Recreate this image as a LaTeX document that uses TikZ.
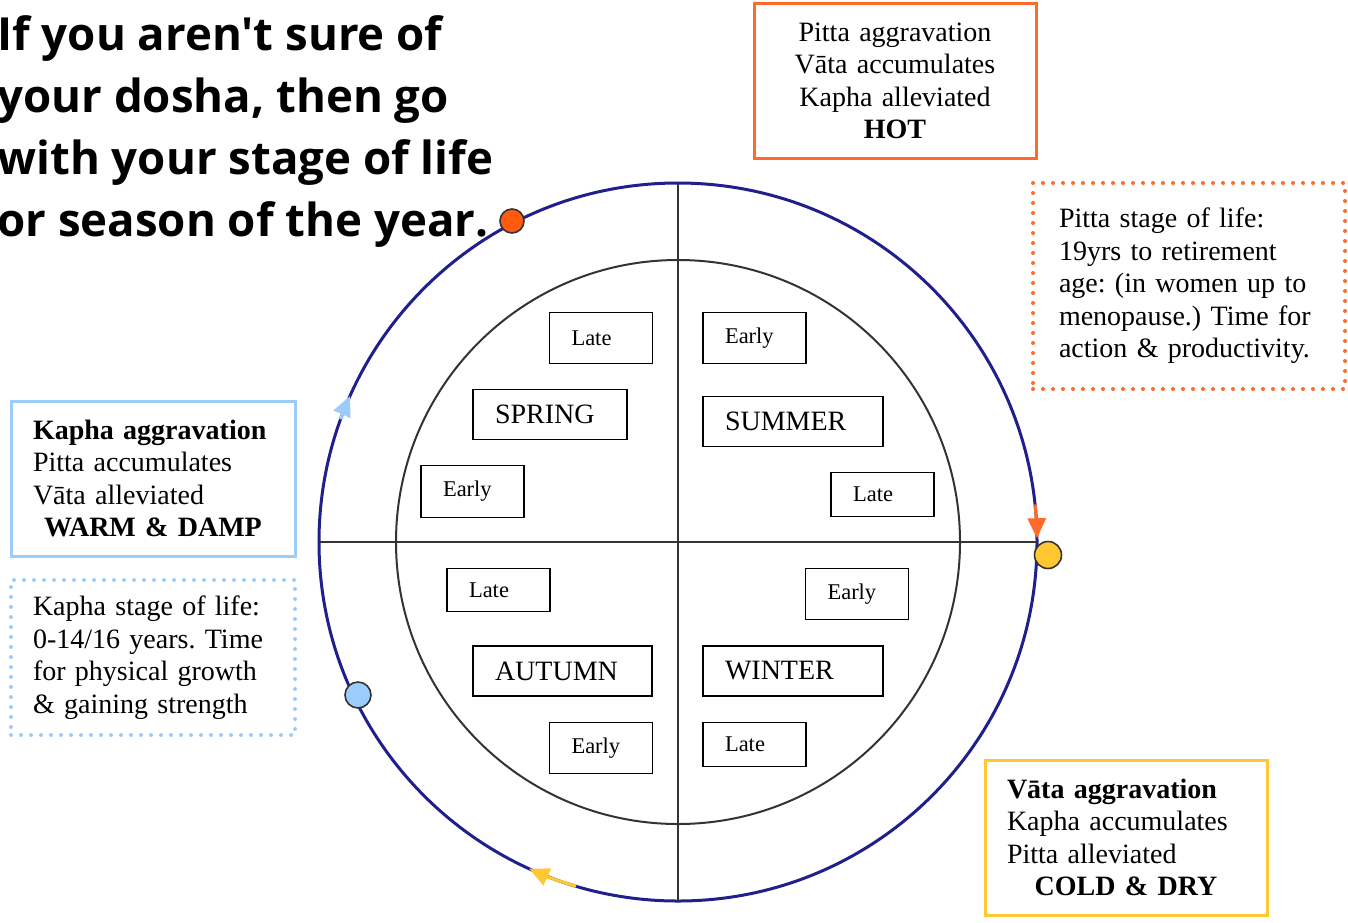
\documentclass[tikz,border=0pt]{standalone}
\usepackage{fontspec}
\setmainfont{Liberation Serif}
\newfontfamily\headfont{Open Sans}[Ligatures=TeXOff]
\usetikzlibrary{arrows.meta}
\frenchspacing
\definecolor{pittaorange}{HTML}{FF6A28}
\definecolor{pittadotfill}{HTML}{FF5A10}
\definecolor{kaphablue}{HTML}{9CCCFA}
\definecolor{vatayellow}{HTML}{FFC832}
\definecolor{rimblue}{HTML}{20208C}
\newcommand\boxfont{\fontsize{14}{16.25}\selectfont}
\newcommand\phasefont{\fontsize{11.25}{13}\selectfont}
\newcommand\seasonfont{\fontsize{14}{16}\selectfont}
\newcommand\centredline[1]{\makebox[\hsize]{#1}}

\begin{document}
\begin{tikzpicture}[x=0.5pt, y=-0.5pt, >={Triangle[length=10pt,width=9pt]},
  rim/.style={draw=rimblue, line width=1.5pt},
  ring/.style={draw=black!80, line width=1pt},
  infobox/.style={draw, line width=1.5pt, minimum height=77.5pt, inner xsep=11pt, align=left, font=\boxfont},
  lifebox/.style={infobox, line width=2pt, dash pattern=on 0pt off 5pt, line cap=round},
  phasebox/.style={draw, line width=0.75pt, minimum height=25.5pt, inner xsep=11pt, text width=29.5pt, align=left, font=\phasefont},
  seasonbox/.style={draw, line width=0.75pt, minimum height=25pt, inner xsep=11pt, align=left, font=\seasonfont},
  seasondot/.style={circle, draw=black!80, line width=0.8pt, inner sep=0pt, minimum size=#1}]
\useasboundingbox (0,0) rectangle (1348,922);

\coordinate (ctr) at (678, 542);
\coordinate (north) at (678, 183);
\coordinate (south) at (678, 901);
\coordinate (west) at (319, 542);
\coordinate (east) at (1037, 542);
\draw [rim] (ctr) circle [radius=359];
\draw [ring] (ctr) circle [radius=282];
\draw [ring] (north) -- (south);
\draw [ring] (west) -- (east);

\draw [->, pittaorange, line width=1.5pt] ([shift={(-6:359)}]ctr) arc [start angle=-6, end angle=-0.6, radius=359];
\draw [->, vatayellow, line width=1.5pt] ([shift={(106.5:359)}]ctr) arc [start angle=106.5, end angle=114.5, radius=359];
\draw [->, kaphablue, line width=1.5pt] ([shift={(200:359)}]ctr) arc [start angle=200, end angle=204, radius=359];

\node (pittadot) at (512, 221) [seasondot=12pt, fill=pittadotfill] {};
\node (vatadot) at (1048, 555) [seasondot=13.5pt, fill=vatayellow] {};
\node (kaphadot) at (358, 695) [seasondot=13pt, fill=kaphablue] {};

\node (springlate) at (601, 338) [phasebox] {Late};
\node (spring) at (550, 414.5) [seasonbox, text width=55pt] {SPRING};
\node (springearly) at (472.5, 491.5) [phasebox, minimum height=26pt] {Early};
\node (summerearly) at (754.5, 338) [phasebox] {Early};
\node (summer) at (793, 421.5) [seasonbox, text width=68pt] {SUMMER};
\node (summerlate) at (882.5, 494.5) [phasebox, minimum height=22pt] {Late};
\node (autumnlate) at (498.5, 590) [phasebox, minimum height=21.5pt] {Late};
\node (autumn) at (562.5, 671) [seasonbox, text width=67.5pt] {AUTUMN};
\node (autumnearly) at (601, 748) [phasebox] {Early};
\node (winterearly) at (857, 594) [phasebox] {Early};
\node (winter) at (793, 671) [seasonbox, text width=68pt] {WINTER};
\node (winterlate) at (754.5, 744.5) [phasebox, minimum height=22pt] {Late};

\node (hot) at (895, 81) [infobox, draw=pittaorange, text width=119pt, align=center] {Pitta aggravation\\Vāta accumulates\\Kapha alleviated\\\textbf{HOT}};
\node (pittalife) at (1189, 286) [lifebox, draw=pittaorange, minimum height=103pt, inner xsep=13pt, text width=130pt] {Pitta stage of life:\\19yrs to retirement\\age: (in women up to\\menopause.) Time for\\action \& productivity.};
\node (warmdamp) at (153, 478.5) [infobox, draw=kaphablue, text width=120pt] {\textbf{Kapha aggravation}\\Pitta accumulates\\Vāta alleviated\\\centredline{\textbf{WARM \& DAMP}}};
\node (kaphalife) at (153, 657.5) [lifebox, draw=kaphablue, text width=120pt] {Kapha stage of life:\\0-14/16 years. Time\\for physical growth\\\& gaining strength};
\node (colddry) at (1126, 837.5) [infobox, draw=vatayellow, text width=119pt] {\textbf{Vāta aggravation}\\Kapha accumulates\\Pitta alleviated\\\centredline{\textbf{COLD \& DRY}}};

\node (title) at (-3, 15) [anchor=north west, inner sep=0pt, align=left, font=\headfont\bfseries\fontsize{22.8}{31}\selectfont] {If you aren't sure of\\your dosha, then go\\with your stage of life\\or season of the year.};
\end{tikzpicture}
\end{document}
